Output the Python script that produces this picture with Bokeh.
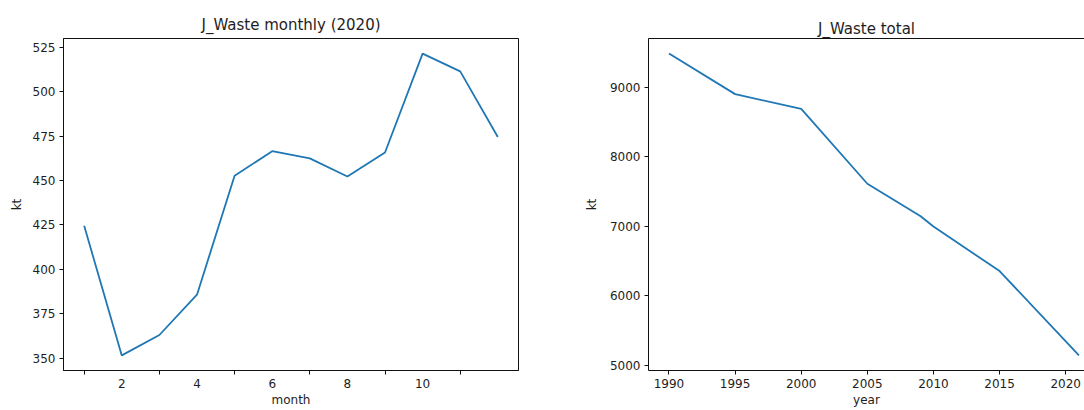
from bokeh.plotting import figure
from bokeh.layouts import row
from bokeh.models import FixedTicker, Range1d, LinearAxis
from bokeh.embed import file_html
from bokeh.resources import INLINE

# ---------------- data ----------------
months = [1, 2, 3, 4, 5, 6, 7, 8, 9, 10, 11, 12]
monthly_kt = [424.5, 351.5, 363.0, 385.7, 452.7, 466.5, 462.5, 452.3, 465.8, 521.5, 511.5, 474.5]
month_label_ticks = [2, 4, 6, 8, 10]
month_tick_labels = ["2", "4", "6", "8", "10"]
month_mark_ticks = [1, 3, 5, 7, 9, 11]
monthly_y_ticks = [350, 375, 400, 425, 450, 475, 500, 525]

years = [1990, 1995, 2000, 2005, 2009, 2010, 2015, 2021]
total_kt = [9483, 8900, 8687, 7611, 7147, 6995, 6355, 5142]
year_ticks = [1990, 1995, 2000, 2005, 2010, 2015, 2020]
year_tick_labels = ["1990", "1995", "2000", "2005", "2010", "2015", "2020"]
total_y_ticks = [5000, 6000, 7000, 8000, 9000]

FONT = "DejaVu Sans"
TXT = "#1e1e1e"
LINE = "#1f77b4"


def padded(vals, frac=0.05):
    lo, hi = min(vals), max(vals)
    d = (hi - lo) * frac
    return lo - d, hi + d


def style_axis(ax):
    ax.axis_line_color = "#111111"
    ax.axis_line_width = 1
    ax.major_tick_line_color = "#111111"
    ax.major_tick_in = 0
    ax.major_tick_out = 4
    ax.minor_tick_line_color = None
    ax.major_label_text_font = FONT
    ax.major_label_text_font_size = "12px"
    ax.major_label_text_color = TXT
    ax.axis_label_text_font = FONT
    ax.axis_label_text_font_size = "12px"
    ax.axis_label_text_font_style = "normal"
    ax.axis_label_text_color = TXT
    ax.major_label_standoff = 4


def style(p, title):
    p.title.text = title
    p.title.align = "center"
    p.title.text_font = FONT
    p.title.text_font_size = "15px"
    p.title.text_font_style = "normal"
    p.title.text_color = TXT
    p.xgrid.visible = False
    p.ygrid.visible = False
    p.background_fill_color = "white"
    p.border_fill_color = "white"


FRAME_H = 332
TOP = 38

# ---------------- left: monthly ----------------
x0, x1 = padded(months)
y0, y1 = padded(monthly_kt)
p1 = figure(frame_width=455, frame_height=FRAME_H, output_backend="svg", toolbar_location=None,
            x_range=Range1d(x0, x1), y_range=Range1d(y0, y1),
            min_border_left=63, min_border_right=50, min_border_top=TOP, min_border_bottom=0)
style(p1, "J_Waste monthly (2020)")
p1.title.standoff = 10
p1.outline_line_color = "#111111"
p1.outline_line_width = 1
p1.outline_line_alpha = 1
bx1 = p1.below[0]
ly1 = p1.left[0]
style_axis(bx1)
style_axis(ly1)
bx1.ticker = FixedTicker(ticks=month_label_ticks, minor_ticks=month_mark_ticks)
bx1.major_label_overrides = {t: s for t, s in zip(month_label_ticks, month_tick_labels)}
bx1.major_tick_line_color = None
bx1.minor_tick_line_color = "#111111"
bx1.minor_tick_in = 0
bx1.minor_tick_out = 4
bx1.axis_label = "month"
bx1.axis_label_standoff = 2
ly1.ticker = FixedTicker(ticks=monthly_y_ticks)
ly1.axis_label = "kt"
ly1.axis_label_standoff = 6
p1.line(months, monthly_kt, line_color=LINE, line_width=1.8)

# ---------------- right: total ----------------
ty0, ty1 = padded(total_kt)
yx0, _ = padded(years)
p2 = figure(frame_width=436, frame_height=FRAME_H, output_backend="svg", toolbar_location=None,
            x_range=Range1d(yx0, 2021.42), y_range=Range1d(ty0, ty1),
            min_border_left=80, min_border_right=0, min_border_top=TOP, min_border_bottom=0)
style(p2, "J_Waste total")
p2.title.standoff = 1
p2.title.offset = 5
p2.outline_line_color = None
bx2 = p2.below[0]
ly2 = p2.left[0]
style_axis(bx2)
style_axis(ly2)
top_axis = LinearAxis(ticker=FixedTicker(ticks=[]), major_tick_line_color=None,
                      minor_tick_line_color=None, major_tick_out=0, major_tick_in=0,
                      major_label_standoff=0, axis_line_color="#111111", axis_line_width=1)
p2.add_layout(top_axis, "above")
bx2.ticker = FixedTicker(ticks=year_ticks)
bx2.major_label_overrides = {t: s for t, s in zip(year_ticks, year_tick_labels)}
bx2.axis_label = "year"
bx2.axis_label_standoff = 2
ly2.ticker = FixedTicker(ticks=total_y_ticks)
ly2.axis_label = "kt"
ly2.axis_label_standoff = 8
p2.line(years, total_kt, line_color=LINE, line_width=1.8)

layout = row(p1, p2)
open("out.html", "w").write(file_html(layout, INLINE))
